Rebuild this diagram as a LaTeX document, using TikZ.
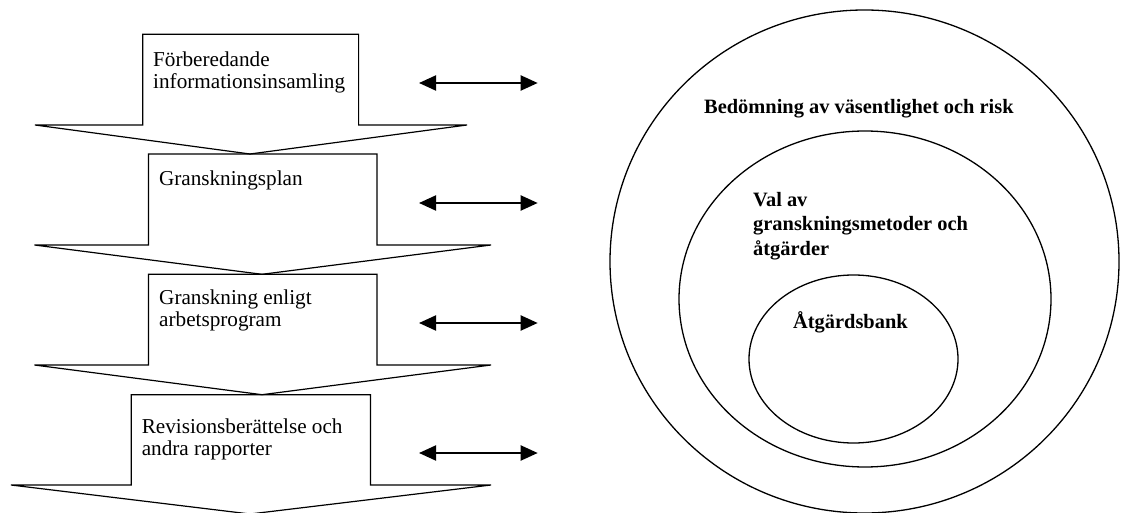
\documentclass[tikz,border=0pt]{standalone}
\usepackage{fontspec}
\setmainfont{Liberation Serif}
\usetikzlibrary{arrows.meta}
\begin{document}
\begin{tikzpicture}[x=1pt,y=-1pt,
  blk/.style={draw=black,line width=1.2pt,line join=miter},
  lbl/.style={anchor=base west,inner sep=0pt,font=\fontsize{21.2}{22}\selectfont},
  blbl/.style={anchor=base west,inner sep=0pt,font=\fontsize{20.4}{24.3}\selectfont\bfseries},
  dbl/.style={line width=2pt,{Triangle[length=17pt,width=15pt]}-{Triangle[length=17pt,width=15pt]}},
  ring/.style={draw,line width=1.3pt}]
\useasboundingbox (0,0) rectangle (1142,513);
\clip (0,0) rectangle (1142,513);

% block arrows
\draw[blk] (142.7,34.3) -- (358.6,34.3) -- (358.6,125) -- (467,125) -- (250,154) -- (35,125) -- (142.7,125) -- cycle;
\draw[blk] (148.5,154) -- (377,154) -- (377,245) -- (491,245) -- (262,274.3) -- (34.4,245) -- (148.5,245) -- cycle;
\draw[blk] (148.5,274.3) -- (377,274.3) -- (377,365) -- (491,365) -- (262,394.7) -- (34.4,365) -- (148.5,365) -- cycle;
\draw[blk] (131.3,394.7) -- (370.5,394.7) -- (370.5,485) -- (491,485) -- (250,514) -- (11,485) -- (131.3,485) -- cycle;

% block texts
\node[lbl] (s1) at (153,66.7) {\begin{tabular}[t]{@{}l@{}}Förberedande\\informationsinsamling\end{tabular}};
\node[lbl] (s2) at (158.8,185.7) {Granskningsplan};
\node[lbl] (s3) at (159,304.3) {\begin{tabular}[t]{@{}l@{}}Granskning enligt\\arbetsprogram\end{tabular}};
\node[lbl] (s4) at (141.6,433.5) {\begin{tabular}[t]{@{}l@{}}Revisionsberättelse och\\andra rapporter\end{tabular}};

% double arrows
\coordinate (la1) at (419,83);  \coordinate (ra1) at (537.7,83);
\coordinate (la2) at (419,203); \coordinate (ra2) at (537.7,203);
\coordinate (la3) at (419,323); \coordinate (ra3) at (537.7,323);
\coordinate (la4) at (419,453); \coordinate (ra4) at (537.7,453);
\draw[dbl] (la1) -- (ra1);
\draw[dbl] (la2) -- (ra2);
\draw[dbl] (la3) -- (ra3);
\draw[dbl] (la4) -- (ra4);

% nested ellipses
\draw[ring] (864.5,261.5) ellipse [x radius=254.5pt, y radius=251.5pt];
\draw[ring] (865,299) ellipse [x radius=186pt, y radius=168pt];
\draw[ring] (853.5,359) ellipse [x radius=104.5pt, y radius=84pt];

\node[blbl] (c1) at (704,113.3) {Bedömning av väsentlighet och risk};
\node[blbl] (c2) at (753,206.7) {\begin{tabular}[t]{@{}l@{}}Val av\\granskningsmetoder och\\åtgärder\end{tabular}};
\node[blbl] (c3) at (793,328.3) {Åtgärdsbank};
\end{tikzpicture}
\end{document}
